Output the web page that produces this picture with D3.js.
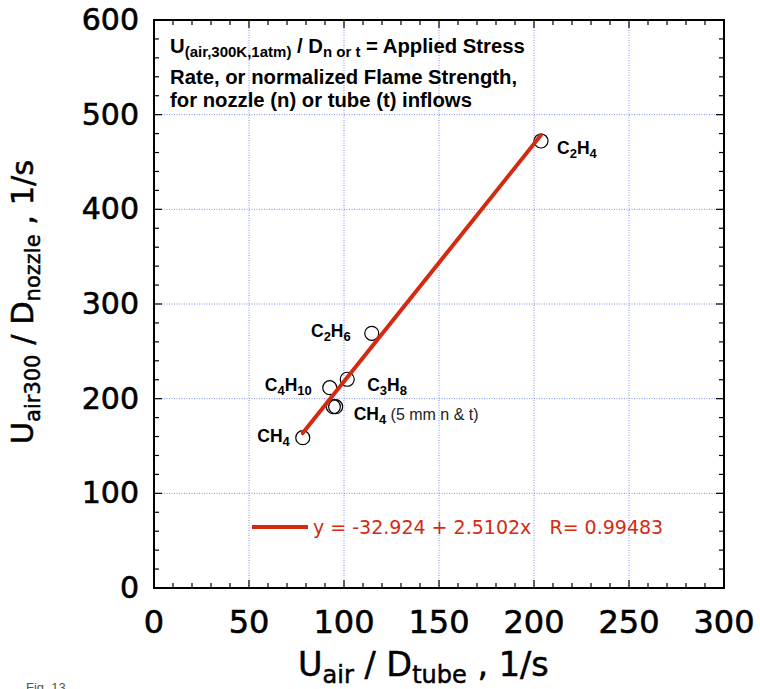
<!DOCTYPE html>
<html>
<head>
<meta charset="utf-8">
<script src="https://cdn.jsdelivr.net/npm/d3@7"></script>
<style>
  html, body { margin: 0; padding: 0; background: #fff; }
  svg { display: block; }
</style>
</head>
<body>
<svg id="chart" width="760" height="689"></svg>
<script>
// ---- data ----
const fuels = ["C2H4", "C2H6", "C3H8", "C4H10", "CH4 (5 mm)", "CH4 (5 mm)", "CH4"];
const xTube = [203.7, 114.6, 101.7, 92.5, 94.4, 95.6, 78.3];
const yNozzle = [472.2, 269.0, 220.5, 211.6, 191.5, 191.5, 158.8];
const fitIntercept = -32.924;
const fitSlope = 2.5102;
const fitR = 0.99483;
const xTicks = [0, 50, 100, 150, 200, 250, 300];
const yTicks = [0, 100, 200, 300, 400, 500, 600];

const svg = d3.select("#chart");
const W = 760, H = 689;
const L = 154, R = 724, T = 20, B = 588;
const x = d3.scaleLinear().domain([0, 300]).range([L, R]);
const y = d3.scaleLinear().domain([0, 600]).range([B, T]);

const RED = "#d42a12";
const GRID = "#7d8ff0";
const NUM_FONT = "'DejaVu Sans', sans-serif";
const TXT_FONT = "'Liberation Sans', Arial, sans-serif";

svg.append("rect").attr("width", W).attr("height", H).attr("fill", "#fff");

// grid
const g = svg.append("g");
g.selectAll("line.gx").data(xTicks.filter(d => d > 0 && d < 300)).join("line")
  .attr("x1", d => x(d)).attr("x2", d => x(d)).attr("y1", T).attr("y2", B)
  .attr("stroke", GRID).attr("stroke-width", 1).attr("stroke-dasharray", "1,1.5");
g.selectAll("line.gy").data(yTicks.filter(d => d > 0 && d < 600)).join("line")
  .attr("x1", L).attr("x2", R).attr("y1", d => y(d)).attr("y2", d => y(d))
  .attr("stroke", GRID).attr("stroke-width", 1).attr("stroke-dasharray", "1,1.5");

// inward ticks on all four sides
const xMinor = d3.range(0, 301, 10);
const yMinor = d3.range(0, 601, 20);
const tk = svg.append("g").attr("stroke", "#000").attr("stroke-width", 1.2);
const len = (v, step) => (v % step === 0 ? 8 : 5);
xMinor.forEach(v => {
  const l = len(v, 50);
  tk.append("line").attr("x1", x(v)).attr("x2", x(v)).attr("y1", B).attr("y2", B - l);
  tk.append("line").attr("x1", x(v)).attr("x2", x(v)).attr("y1", T).attr("y2", T + l);
});
yMinor.forEach(v => {
  const l = len(v, 100);
  tk.append("line").attr("y1", y(v)).attr("y2", y(v)).attr("x1", L).attr("x2", L + l);
  tk.append("line").attr("y1", y(v)).attr("y2", y(v)).attr("x1", R).attr("x2", R - l);
});

// frame
svg.append("rect").attr("x", L).attr("y", T).attr("width", R - L).attr("height", B - T)
  .attr("fill", "none").attr("stroke", "#000").attr("stroke-width", 2);

// tick labels
svg.append("g").selectAll("text").data(xTicks).join("text")
  .attr("x", d => x(d)).attr("y", B + 45)
  .attr("text-anchor", "middle").attr("font-family", NUM_FONT).attr("font-size", 32)
  .attr("fill", "#000").attr("stroke", "#000").attr("stroke-width", 0.6).text(d => d);
svg.append("g").selectAll("text").data(yTicks).join("text")
  .attr("x", L - 15).attr("y", d => y(d)).attr("dy", "0.33em")
  .attr("text-anchor", "end").attr("font-family", NUM_FONT).attr("font-size", 30)
  .attr("fill", "#000").attr("stroke", "#000").attr("stroke-width", 0.6).text(d => d);

// text with subscripts: subscript tspans shifted down, next tspan shifted back
function subText(sel, parts, baseSize, subSize, subShift) {
  let prevSub = false;
  parts.forEach(p => {
    const ts = sel.append("tspan").attr("font-size", p.sub ? subSize : baseSize).text(p.t);
    if (p.sub) ts.attr("dy", subShift);
    else if (prevSub) ts.attr("dy", -subShift);
    prevSub = !!p.sub;
  });
}
const xt = svg.append("text").attr("x", 298).attr("y", 676).attr("font-size", 33.5)
  .attr("text-anchor", "start").attr("font-family", NUM_FONT).attr("fill", "#000")
  .attr("stroke", "#000").attr("stroke-width", 0.5);
subText(xt, [{t: "U"}, {t: "air", sub: true}, {t: " / D"}, {t: "tube", sub: true}, {t: " , 1/s"}], 33.5, 24, 7);

const yt = svg.append("text").attr("font-size", 30.5)
  .attr("transform", `translate(33,302) rotate(-90)`)
  .attr("text-anchor", "middle").attr("font-family", NUM_FONT).attr("fill", "#000")
  .attr("stroke", "#000").attr("stroke-width", 0.5);
subText(yt, [{t: "U"}, {t: "air300", sub: true}, {t: " / D"}, {t: "nozzle", sub: true}, {t: " , 1/s"}], 30.5, 21, 7);

// data circles
const pts = fuels.map((f, i) => ({f, x: xTube[i], y: yNozzle[i]}));
svg.append("g").selectAll("circle").data(pts).join("circle")
  .attr("cx", d => x(d.x)).attr("cy", d => y(d.y)).attr("r", 7)
  .attr("fill", "none").attr("stroke", "#000").attr("stroke-width", 1.2);

// fit line
const xMin = d3.min(xTube), xMax = d3.max(xTube);
svg.append("line")
  .attr("x1", x(xMin)).attr("y1", y(fitIntercept + fitSlope * xMin))
  .attr("x2", x(xMax)).attr("y2", y(fitIntercept + fitSlope * xMax))
  .attr("stroke", RED).attr("stroke-width", 4).attr("stroke-linecap", "round");

// point labels
function chem(parent, px, py, anchor, parts, extra) {
  const t = parent.append("text").attr("x", px).attr("y", py).attr("font-size", 17.5)
    .attr("text-anchor", anchor).attr("font-family", TXT_FONT)
    .attr("font-weight", "bold").attr("fill", "#000");
  subText(t, parts.map(p => ({t: p, sub: /\d/.test(p)})), 17.5, 13, 4);
  if (extra) {
    const last = parts[parts.length - 1];
    t.append("tspan").attr("font-size", 16).attr("font-weight", "normal")
      .attr("dy", /\d/.test(last) ? -4 : 0).attr("fill", "#222").text(extra);
  }
  return t;
}
const lab = svg.append("g");
const P = i => [x(xTube[i]), y(yNozzle[i])];
chem(lab, P(0)[0] + 16, P(0)[1] + 13, "start", ["C", "2", "H", "4"]);
chem(lab, P(1)[0] - 21, P(1)[1] + 4, "end", ["C", "2", "H", "6"]);
chem(lab, P(2)[0] + 20, P(2)[1] + 12, "start", ["C", "3", "H", "8"]);
chem(lab, P(3)[0] - 18, P(3)[1] + 3, "end", ["C", "4", "H", "10"]);
chem(lab, P(5)[0] + 18, P(5)[1] + 13, "start", ["CH", "4"], " (5 mm n & t)");
chem(lab, P(6)[0] - 13, P(6)[1] + 4, "end", ["CH", "4"]);

// annotation box text
const ann = svg.append("g").attr("font-family", TXT_FONT).attr("font-weight", "bold")
  .attr("fill", "#000");
const a1 = ann.append("text").attr("x", 170).attr("y", 53).attr("font-size", 20.3);
subText(a1, [{t: "U"}, {t: "(air,300K,1atm)", sub: true}, {t: " / D"}, {t: "n or t", sub: true},
  {t: " = Applied Stress"}], 20.3, 15, 4);
ann.append("text").attr("x", 170).attr("y", 84).attr("font-size", 20.3)
  .text("Rate, or normalized Flame Strength,");
ann.append("text").attr("x", 170).attr("y", 107).attr("font-size", 20.3)
  .text("for nozzle (n) or tube (t) inflows");

// legend
const lg = svg.append("g");
lg.append("line").attr("x1", 252).attr("x2", 308).attr("y1", 527).attr("y2", 527)
  .attr("stroke", RED).attr("stroke-width", 4);
lg.append("text").attr("x", 313).attr("y", 534).attr("font-family", NUM_FONT)
  .attr("font-size", 19).attr("fill", RED).attr("xml:space", "preserve")
  .text(`y = ${fitIntercept} + ${fitSlope}x   R= ${fitR}`);

// figure number
svg.append("text").attr("x", 26).attr("y", 692).attr("font-family", TXT_FONT)
  .attr("font-size", 13).attr("fill", "#555").text("Fig. 13");
</script>
</body>
</html>
